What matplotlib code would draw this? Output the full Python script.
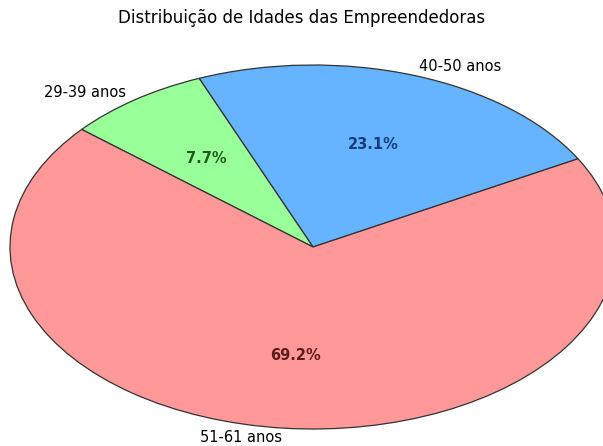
import matplotlib
matplotlib.use('Agg')
import matplotlib.pyplot as plt

labels = ['40-50 anos', '29-39 anos', '51-61 anos']
counts = [3, 1, 9]
colors = ['#66b3ff', '#99ff99', '#ff9999']
pct_colors = ['#173d78', '#1d5e1d', '#5e1c1c']

fig = plt.figure(figsize=(6.03, 4.46), dpi=100)
ax = fig.add_axes([0, 0, 1, 1])

wedges, texts, autotexts = ax.pie(counts, labels=labels, colors=colors,
                                  autopct='%1.1f%%', startangle=29,
                                  labeldistance=1.05,
                                  wedgeprops={'edgecolor': '#333333', 'linewidth': 0.9},
                                  textprops={'fontsize': 10.5})
for t, c in zip(autotexts, pct_colors):
    t.set_color(c)
    t.set_fontweight('bold')

# stretched ellipse like the reference
ax.set_aspect('auto')
ax.set_xlim(-313 / 303, (603 - 313) / 303)
ax.set_ylim(-199 / 182, (446 - 199) / 182)
ax.axis('off')

fig.text(0.5, 1 - 18 / 446, 'Distribuição de Idades das Empreendedoras',
         ha='center', va='center', fontsize=12)

fig.savefig('out.png', dpi=100)
